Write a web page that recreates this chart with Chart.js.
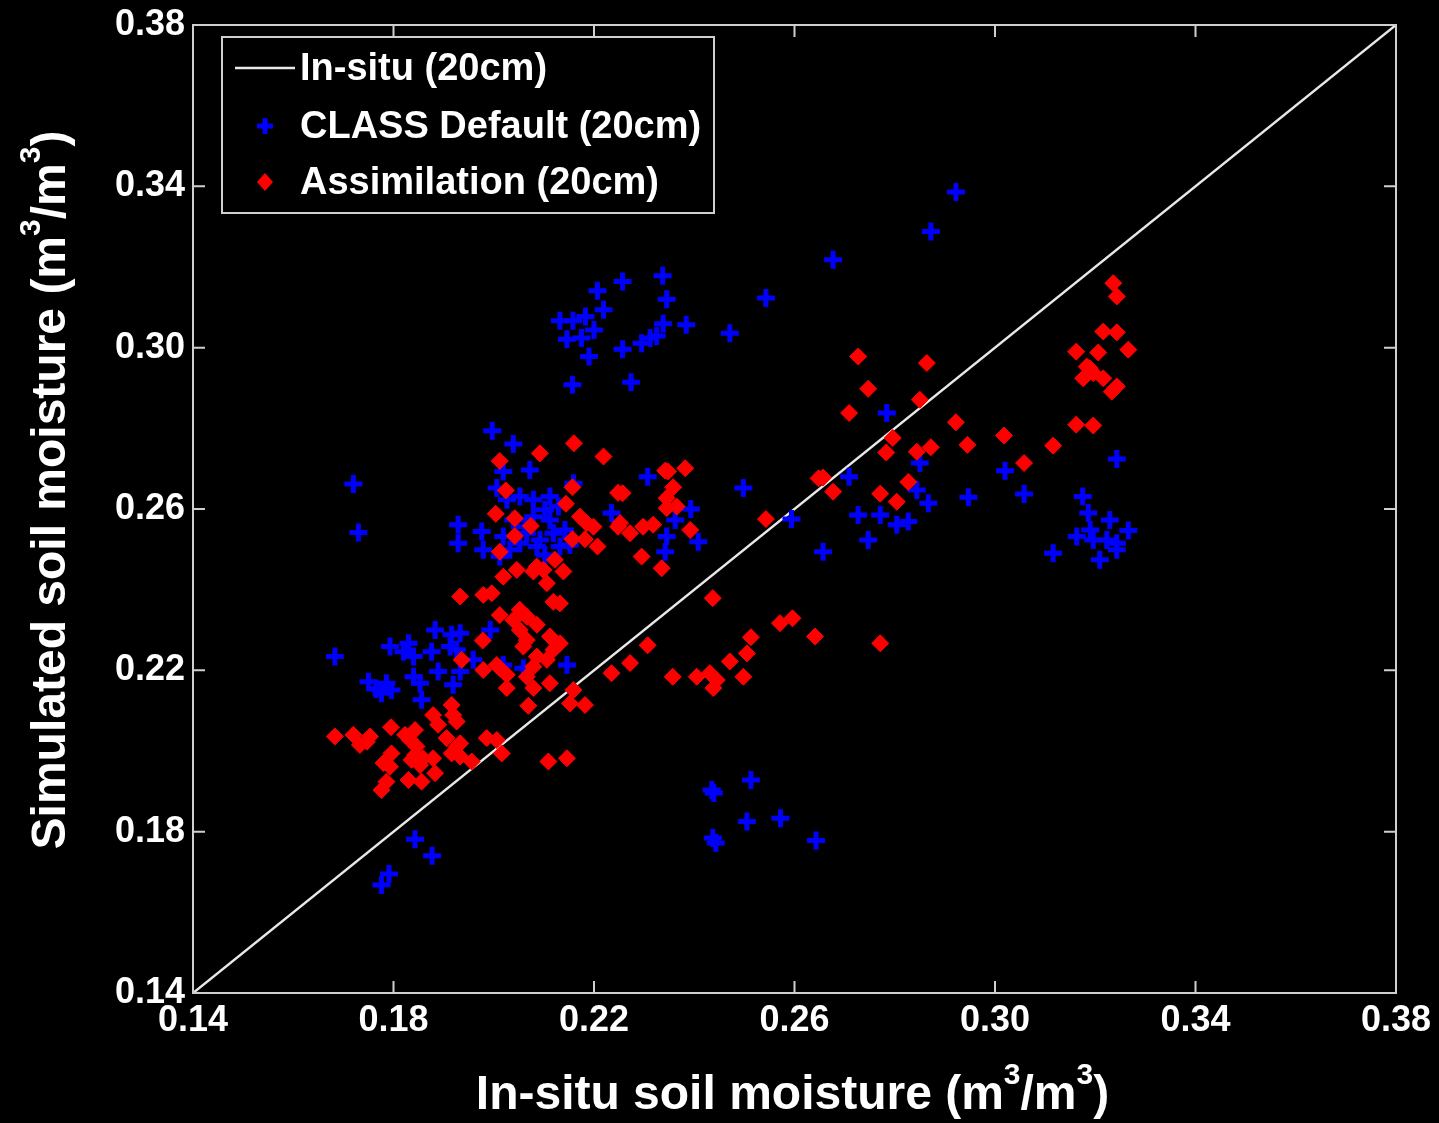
<!DOCTYPE html>
<html lang="en">
<head>
    <meta charset="UTF-8">
    <title>Simulated vs in-situ soil moisture (20cm)</title>
    <style>
        html, body { margin: 0; padding: 0; background: #000; }
        #wrap { width: 1439px; height: 1123px; }
    </style>
    <script src="https://cdn.jsdelivr.net/npm/chart.js"></script>
</head>
<body>
    <div id="wrap"><canvas id="scatter" width="1439" height="1123"></canvas></div>

    <script>
        // axis ticks (both axes share the same range)
        const tickValues = [0.14, 0.18, 0.22, 0.26, 0.30, 0.34, 0.38];

        // 1:1 line
        const oneToOneX = [0.14, 0.38];
        const oneToOneY = [0.14, 0.38];

        // CLASS Default (20cm) - blue crosses
        const classX = [
            0.2922, 0.2872, 0.2677, 0.2337, 0.2257, 0.2207, 0.2345, 0.2543, 0.2219, 0.2132,
            0.2158, 0.2183, 0.2200, 0.2175, 0.2146, 0.2338, 0.2384, 0.2471, 0.2257, 0.2190,
            0.2295, 0.2312, 0.2325, 0.2157, 0.2274, 0.2498, 0.2594, 0.2307, 0.2393, 0.2408,
            0.2362, 0.2345, 0.2235, 0.2072, 0.2784, 0.2709, 0.2850, 0.3020, 0.3243, 0.2947,
            0.3058, 0.2727, 0.2771, 0.2804, 0.2827, 0.2844, 0.2867, 0.2747, 0.2657, 0.3116,
            0.3175, 0.3186, 0.3163, 0.3196, 0.3229, 0.3266, 0.3243, 0.3209, 0.3223, 0.3243,
            0.3190, 0.2435, 0.2439, 0.2513, 0.2505, 0.2572, 0.2437, 0.2443, 0.2643, 0.2342,
            0.1843, 0.1877, 0.1791, 0.1776, 0.1997, 0.2039, 0.1720, 0.1730, 0.2019, 0.1929,
            0.1929, 0.1976, 0.1979, 0.2006, 0.2026, 0.2052, 0.2079, 0.2112, 0.2129, 0.2159,
            0.2066, 0.2092, 0.2119, 0.2132, 0.2086, 0.2052, 0.2012, 0.2112, 0.2079, 0.2039,
            0.2019, 0.2102, 0.2062, 0.2142, 0.2032, 0.2102, 0.2152, 0.1683, 0.1793, 0.1830,
            0.1820, 0.1840, 0.1876, 0.1883, 0.1916, 0.1933, 0.1913, 0.1926, 0.1993, 0.1959,
            0.1750, 0.1786, 0.1796, 0.1776, 0.1840, 0.1853, 0.1889, 0.1919, 0.1856, 0.1933,
            0.2146, 0.2059, 0.2019, 0.1765
        ];
        const classY = [
            0.3386, 0.3288, 0.3218, 0.3178, 0.3164, 0.3141, 0.3120, 0.3123, 0.3094, 0.3067,
            0.3067, 0.3077, 0.3044, 0.3024, 0.3021, 0.3059, 0.3057, 0.3036, 0.2996, 0.2978,
            0.3011, 0.3024, 0.3029, 0.2908, 0.2914, 0.2652, 0.2575, 0.2680, 0.2600, 0.2519,
            0.2573, 0.2532, 0.2590, 0.2697, 0.2838, 0.2680, 0.2714, 0.2695, 0.2724, 0.2629,
            0.2637, 0.2585, 0.2585, 0.2561, 0.2569, 0.2647, 0.2614, 0.2523, 0.2494, 0.2490,
            0.2631, 0.2590, 0.2532, 0.2523, 0.2573, 0.2547, 0.2515, 0.2474, 0.2523, 0.2499,
            0.2548, 0.1903, 0.1896, 0.1928, 0.1825, 0.1833, 0.1784, 0.1772, 0.1778, 0.2494,
            0.1781, 0.1740, 0.1695, 0.1668, 0.2794, 0.2761, 0.2662, 0.2542, 0.2693, 0.2561,
            0.2515, 0.2544, 0.2499, 0.2652, 0.2623, 0.2631, 0.2623, 0.2631, 0.2606, 0.2664,
            0.2540, 0.2523, 0.2540, 0.2507, 0.2507, 0.2515, 0.2482, 0.2573, 0.2581, 0.2573,
            0.2532, 0.2598, 0.2556, 0.2548, 0.2499, 0.2486, 0.2511, 0.2234, 0.2259, 0.2267,
            0.2246, 0.2234, 0.2246, 0.2300, 0.2288, 0.2292, 0.2259, 0.2251, 0.2300, 0.2226,
            0.2172, 0.2168, 0.2151, 0.2143, 0.2184, 0.2168, 0.2197, 0.2164, 0.2127, 0.2197,
            0.2213, 0.2205, 0.2213, 0.2154
        ];

        // Assimilation (20cm) - red diamonds
        const assimX = [
            0.2160, 0.2092, 0.2219, 0.2012, 0.2024, 0.2157, 0.2144, 0.2004, 0.2042, 0.2074,
            0.2042, 0.2172, 0.2185, 0.2199, 0.2157, 0.2182, 0.2207, 0.2012, 0.2122, 0.2139,
            0.2086, 0.2079, 0.2099, 0.2046, 0.2019, 0.2106, 0.1933, 0.1979, 0.1996, 0.2248,
            0.2248, 0.2119, 0.2132, 0.2012, 0.2039, 0.2052, 0.2066, 0.2086, 0.2052, 0.2066,
            0.2059, 0.2112, 0.2132, 0.2119, 0.2086, 0.2106, 0.2079, 0.1978, 0.1936, 0.1979,
            0.2006, 0.2026, 0.2012, 0.2026, 0.2066, 0.2079, 0.2112, 0.2069, 0.2159, 0.2152,
            0.2182, 0.2235, 0.1916, 0.1919, 0.1926, 0.1879, 0.1889, 0.1683, 0.1720, 0.1733,
            0.1753, 0.1747, 0.1795, 0.1823, 0.1843, 0.1833, 0.1906, 0.1926, 0.1933, 0.1986,
            0.2006, 0.2016, 0.1846, 0.1843, 0.1796, 0.1780, 0.1793, 0.1836, 0.1859, 0.1879,
            0.1853, 0.1916, 0.1933, 0.1956, 0.1883, 0.1830, 0.1856, 0.1786, 0.1776, 0.2109,
            0.2146, 0.2342, 0.2348, 0.2382, 0.2358, 0.2257, 0.2345, 0.2345, 0.2365, 0.2392,
            0.2318, 0.2298, 0.2272, 0.2252, 0.2543, 0.2648, 0.2727, 0.2864, 0.2747, 0.2709,
            0.2850, 0.2796, 0.2783, 0.2844, 0.2872, 0.2922, 0.2945, 0.3018, 0.3058, 0.3116,
            0.3162, 0.3196, 0.2657, 0.2677, 0.2827, 0.2771, 0.2804, 0.3236, 0.3243, 0.3216,
            0.3243, 0.3162, 0.3206, 0.3266, 0.3183, 0.3176, 0.3196, 0.3216, 0.3233, 0.3243,
            0.3189, 0.2641, 0.2771, 0.2295, 0.2335, 0.2437, 0.2571, 0.2596, 0.2513, 0.2505,
            0.2471, 0.2498, 0.2307, 0.2272, 0.2357, 0.2405, 0.2431, 0.2445, 0.2438
        ];
        const assimY = [
            0.2763, 0.2738, 0.2730, 0.2719, 0.2646, 0.2654, 0.2613, 0.2588, 0.2577, 0.2558,
            0.2533, 0.2581, 0.2565, 0.2556, 0.2525, 0.2525, 0.2507, 0.2494, 0.2474, 0.2445,
            0.2457, 0.2445, 0.2449, 0.2449, 0.2432, 0.2416, 0.2383, 0.2387, 0.2391, 0.2640,
            0.2556, 0.2370, 0.2366, 0.2337, 0.2325, 0.2350, 0.2333, 0.2313, 0.2300, 0.2275,
            0.2259, 0.2284, 0.2267, 0.2251, 0.2234, 0.2226, 0.2209, 0.2274, 0.2226, 0.2201,
            0.2213, 0.2189, 0.2205, 0.2156, 0.2184, 0.2156, 0.2168, 0.2112, 0.2151, 0.2118,
            0.2114, 0.2193, 0.2114, 0.2089, 0.2073, 0.2089, 0.2065, 0.2036, 0.2040, 0.2015,
            0.2036, 0.2023, 0.2059, 0.2040, 0.2052, 0.2027, 0.2032, 0.2011, 0.2019, 0.2032,
            0.2027, 0.1994, 0.2011, 0.1990, 0.1994, 0.1970, 0.1961, 0.1978, 0.1982, 0.1982,
            0.1965, 0.1994, 0.1986, 0.1974, 0.1945, 0.1928, 0.1924, 0.1924, 0.1903, 0.1974,
            0.1982, 0.2695, 0.2693, 0.2701, 0.2654, 0.2639, 0.2627, 0.2602, 0.2606, 0.2548,
            0.2561, 0.2556, 0.2540, 0.2565, 0.2575, 0.2676, 0.2978, 0.2962, 0.2898, 0.2838,
            0.2871, 0.2776, 0.2740, 0.2742, 0.2753, 0.2815, 0.2759, 0.2782, 0.2714, 0.2757,
            0.2809, 0.2807, 0.2678, 0.2643, 0.2667, 0.2638, 0.2618, 0.3160, 0.3127, 0.3040,
            0.3038, 0.2990, 0.2988, 0.2995, 0.2953, 0.2924, 0.2937, 0.2924, 0.2891, 0.2904,
            0.2949, 0.2284, 0.2267, 0.2482, 0.2453, 0.2379, 0.2317, 0.2329, 0.2282, 0.2242,
            0.2222, 0.2184, 0.2262, 0.2218, 0.2184, 0.2184, 0.2193, 0.2176, 0.2156
        ];

        const FONT = "'Liberation Sans', Arial, sans-serif";
        const BOX_COLOR = '#cfcfcf';

        function toPoints(xs, ys) {
            return xs.map((x, i) => ({ x: x, y: ys[i] }));
        }

        // draws text with "3" superscripts written as ^3
        function drawRichText(ctx, text, size) {
            const parts = text.split(/(\^3)/);
            const segs = parts.filter(p => p.length).map(p => p === '^3'
                ? { t: '3', sup: true } : { t: p, sup: false });
            let total = 0;
            segs.forEach(s => {
                ctx.font = `bold ${s.sup ? Math.round(size * 0.62) : size}px ${FONT}`;
                s.w = ctx.measureText(s.t).width;
                total += s.w;
            });
            let x = -total / 2;
            segs.forEach(s => {
                ctx.font = `bold ${s.sup ? Math.round(size * 0.62) : size}px ${FONT}`;
                ctx.fillText(s.t, x, s.sup ? -size * 0.42 : 0);
                x += s.w;
            });
        }

        // box, inward ticks, axis titles and legend in the MATLAB look
        const framePlugin = {
            id: 'frame',
            afterDraw(chart) {
                const ctx = chart.ctx;
                const a = chart.chartArea;
                const xs = chart.scales.x, ys = chart.scales.y;
                ctx.save();
                ctx.strokeStyle = BOX_COLOR;
                ctx.lineWidth = 2;
                ctx.strokeRect(a.left, a.top, a.right - a.left, a.bottom - a.top);

                const tl = 12;
                ctx.beginPath();
                tickValues.forEach(v => {
                    const px = xs.getPixelForValue(v);
                    ctx.moveTo(px, a.bottom); ctx.lineTo(px, a.bottom - tl);
                    ctx.moveTo(px, a.top); ctx.lineTo(px, a.top + tl);
                    const py = ys.getPixelForValue(v);
                    ctx.moveTo(a.left, py); ctx.lineTo(a.left + tl, py);
                    ctx.moveTo(a.right, py); ctx.lineTo(a.right - tl, py);
                });
                ctx.stroke();

                // axis titles
                ctx.fillStyle = '#ffffff';
                ctx.textBaseline = 'middle';
                ctx.textAlign = 'left';
                ctx.save();
                ctx.translate((a.left + a.right) / 2 - 2, 1096);
                drawRichText(ctx, 'In-situ soil moisture (m^3/m^3)', 48);
                ctx.restore();
                ctx.save();
                ctx.translate(52, 490);
                ctx.rotate(-Math.PI / 2);
                drawRichText(ctx, 'Simulated soil moisture (m^3/m^3)', 48);
                ctx.restore();

                // legend
                const lx = 222, ly = 37, lw = 492, lh = 176;
                ctx.fillStyle = '#000000';
                ctx.fillRect(lx, ly, lw, lh);
                ctx.strokeStyle = BOX_COLOR;
                ctx.lineWidth = 2;
                ctx.strokeRect(lx, ly, lw, lh);

                const rows = [68, 126, 182];
                ctx.strokeStyle = '#e8e8e8';
                ctx.lineWidth = 2.5;
                ctx.beginPath();
                ctx.moveTo(235, rows[0]); ctx.lineTo(295, rows[0]);
                ctx.stroke();

                ctx.strokeStyle = '#0000ff';
                ctx.lineWidth = 5;
                ctx.beginPath();
                ctx.moveTo(265 - 8, rows[1]); ctx.lineTo(265 + 8, rows[1]);
                ctx.moveTo(265, rows[1] - 8); ctx.lineTo(265, rows[1] + 8);
                ctx.stroke();

                ctx.fillStyle = '#ff0000';
                ctx.beginPath();
                ctx.moveTo(265, rows[2] - 9); ctx.lineTo(265 + 8, rows[2]);
                ctx.lineTo(265, rows[2] + 9); ctx.lineTo(265 - 8, rows[2]);
                ctx.closePath();
                ctx.fill();

                ctx.fillStyle = '#ffffff';
                ctx.font = `bold 38px ${FONT}`;
                ctx.textAlign = 'left';
                ctx.textBaseline = 'middle';
                const names = chart.data.datasets.slice().reverse().map(d => d.label);
                names.forEach((n, i) => ctx.fillText(n, 300, rows[i] + 2));
                ctx.restore();
            }
        };

        const tickFont = { family: FONT, weight: 'bold', size: 36 };

        new Chart(document.getElementById('scatter').getContext('2d'), {
            type: 'scatter',
            data: {
                datasets: [
                    {
                        label: 'Assimilation (20cm)',
                        data: toPoints(assimX, assimY),
                        pointStyle: 'rectRot',
                        pointRadius: 8.5,
                        backgroundColor: '#ff0000',
                        borderColor: '#ff0000',
                        borderWidth: 1,
                        order: 0
                    },
                    {
                        label: 'CLASS Default (20cm)',
                        data: toPoints(classX, classY),
                        pointStyle: 'cross',
                        pointRadius: 9,
                        borderColor: '#0000ff',
                        backgroundColor: '#0000ff',
                        borderWidth: 5,
                        order: 1
                    },
                    {
                        label: 'In-situ (20cm)',
                        type: 'line',
                        data: toPoints(oneToOneX, oneToOneY),
                        borderColor: '#e8e8e8',
                        borderWidth: 2.5,
                        pointRadius: 0,
                        fill: false,
                        order: 2
                    }
                ]
            },
            options: {
                responsive: false,
                animation: false,
                devicePixelRatio: 1,
                layout: { padding: { top: 25, right: 43, left: 0, bottom: 0 } },
                plugins: {
                    legend: { display: false },
                    tooltip: { enabled: false }
                },
                scales: {
                    x: {
                        type: 'linear',
                        min: 0.14,
                        max: 0.38,
                        afterBuildTicks: s => { s.ticks = tickValues.map(v => ({ value: v })); },
                        afterFit: s => { s.height = 130; s.paddingLeft = 0; s.paddingRight = 0; },
                        grid: { display: false, drawTicks: false },
                        border: { display: false },
                        ticks: {
                            color: '#ffffff',
                            font: tickFont,
                            padding: 6,
                            maxRotation: 0,
                            autoSkip: false,
                            callback: v => v.toFixed(2)
                        }
                    },
                    y: {
                        type: 'linear',
                        min: 0.14,
                        max: 0.38,
                        afterBuildTicks: s => { s.ticks = tickValues.map(v => ({ value: v })); },
                        afterFit: s => { s.width = 193; s.paddingTop = 0; s.paddingBottom = 0; },
                        grid: { display: false, drawTicks: false },
                        border: { display: false },
                        ticks: {
                            color: '#ffffff',
                            font: tickFont,
                            padding: 8,
                            autoSkip: false,
                            callback: v => v.toFixed(2)
                        }
                    }
                }
            },
            plugins: [framePlugin]
        });
    </script>
</body>
</html>
